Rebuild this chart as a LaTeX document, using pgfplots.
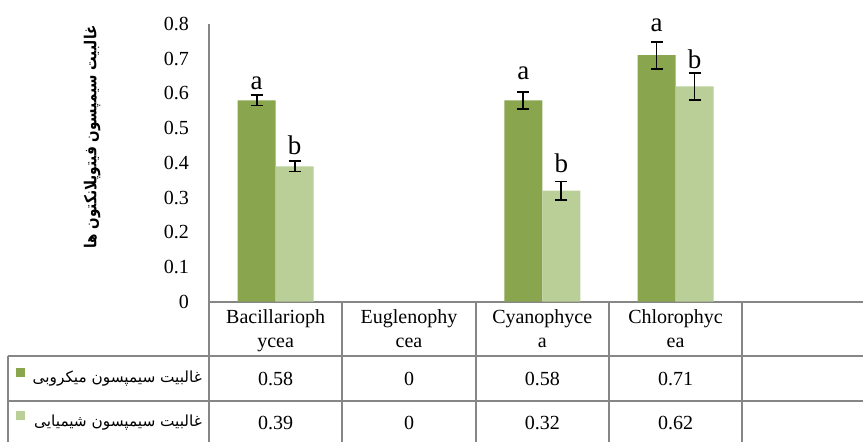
\documentclass[border=0pt]{standalone}
\usepackage{fontspec}
\setmainfont{Liberation Serif}
\newfontfamily\fa[Script=Arabic]{DejaVu Sans}
\newfontfamily\falab[Script=Arabic, FakeStretch=0.82]{DejaVu Sans}
\usepackage{pgfplots}
\pgfplotsset{compat=1.18}
\TeXXeTstate=1
\definecolor{dk}{RGB}{137,165,78}
\definecolor{lt}{RGB}{186,206,152}
\definecolor{ln}{RGB}{134,134,134}
\begin{document}
\begin{tikzpicture}[x=1pt,y=1pt]
\path[use as bounding box] (0,0) rectangle (863,442);
\clip (0,0) rectangle (863,442);
\begin{axis}[
  at={(209pt,140.3pt)}, anchor=south west,
  scale only axis, width=666.5pt, height=277.7pt,
  xmin=-0.5, xmax=4.5, ymin=0, ymax=0.8,
  ybar=0pt, bar width=38pt,
  axis x line=bottom, axis y line=left,
  axis line style={-, draw=ln, line width=1.8pt},
  major tick length=0pt,
  xtick={0,1,2,3,4},
  xticklabels={{Bacillarioph\\ycea},{Euglenophy\\cea},{Cyanophyce\\a},{Chlorophyc\\ea},{}},
  xticklabel style={align=center, anchor=north, inner sep=0pt, yshift=-8pt,
     font=\fontsize{20}{24}\selectfont},
  ytick={0,0.1,0.2,0.3,0.4,0.5,0.6,0.7,0.8},
  yticklabels={0,0.1,0.2,0.3,0.4,0.5,0.6,0.7,0.8},
  yticklabel style={anchor=east, inner sep=0pt, xshift=-20pt,
     font=\fontsize{20}{24}\selectfont},
  error bars/error bar style={black, line width=1.8pt},
  error bars/error mark options={rotate=90, mark size=6pt, line width=1.8pt, black},
  clip=false,
]
% microbial (dark); Euglenophycea = 0 (no bar drawn)
\addplot[fill=dk, draw=none,
  error bars/.cd, y dir=both, y explicit]
  coordinates {(0,0.58) +- (0,0.015) (2,0.58) +- (0,0.025) (3,0.71) +- (0,0.039)};
% chemical (light); Euglenophycea = 0 (no bar drawn)
\addplot[fill=lt, draw=none,
  error bars/.cd, y dir=both, y explicit]
  coordinates {(0,0.39) +- (0,0.015) (2,0.32) +- (0,0.026) (3,0.62) +- (0,0.039)};
% significance letters
\begin{scope}[every node/.style={anchor=base, inner sep=0pt, font=\fontsize{27}{30}\selectfont}]
\node[xshift=-19pt] at (axis cs:0,0.610) {a};
\node[xshift=19pt]  at (axis cs:0,0.423) {b};
\node[xshift=-19pt] at (axis cs:2,0.639) {a};
\node[xshift=19pt]  at (axis cs:2,0.371) {b};
\node[xshift=-19pt] at (axis cs:3,0.778) {a};
\node[xshift=19pt]  at (axis cs:3,0.672) {b};
\end{scope}
\end{axis}
% y label
\node[rotate=90, font=\falab\bfseries\fontsize{16.5}{19}\selectfont] at (92,305)
  {\beginR غالبیت سیمپسون فیتوپلانکتون ها\endR};
% data table lines
\begin{scope}[draw=ln, line width=1.8pt]
\draw (8,86.3) -- (863,86.3);
\draw (8,41.3) -- (863,41.3);
\draw (8,86.3) -- (8,0);
\draw (209,140.3) -- (209,0);
\draw (342.3,140.3) -- (342.3,0);
\draw (475.6,140.3) -- (475.6,0);
\draw (608.9,140.3) -- (608.9,0);
\draw (742.2,140.3) -- (742.2,0);
\end{scope}
% legend keys and series names
\fill[dk] (16,65) rectangle (25,74);
\fill[lt] (16,22) rectangle (25,31);
\node[anchor=east, inner sep=0pt, font=\fa\fontsize{15.3}{18}\selectfont] at (202,63)
  {\beginR غالبیت سیمپسون میکروبی\endR};
\node[anchor=east, inner sep=0pt, font=\fa\fontsize{15.3}{18}\selectfont] at (202,19.5)
  {\beginR غالبیت سیمپسون شیمیایی\endR};
% table values
\begin{scope}[every node/.style={anchor=center, font=\fontsize{20}{24}\selectfont}]
\node at (275.6,63) {0.58};
\node at (409,63) {0};
\node at (542.3,63) {0.58};
\node at (675.6,63) {0.71};
\node at (275.6,19.5) {0.39};
\node at (409,19.5) {0};
\node at (542.3,19.5) {0.32};
\node at (675.6,19.5) {0.62};
\end{scope}
\end{tikzpicture}
\end{document}
